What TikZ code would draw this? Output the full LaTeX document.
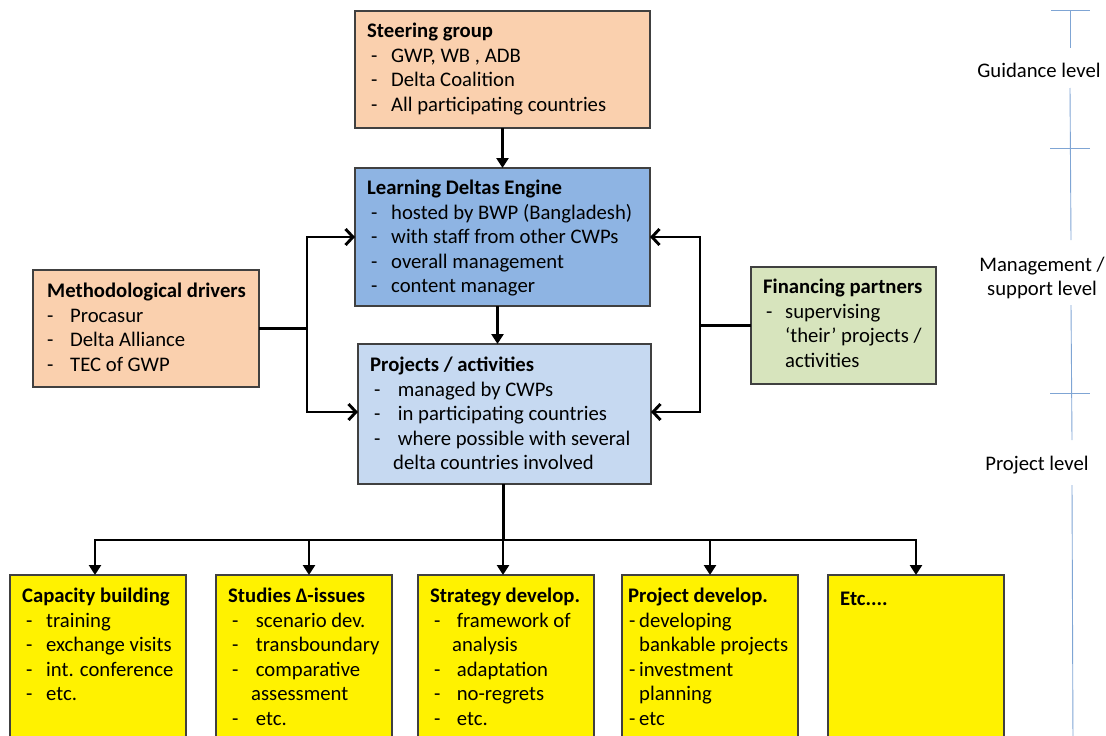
\documentclass[tikz,border=0pt]{standalone}
\usepackage{fontspec}
\setmainfont{Carlito}
\usetikzlibrary{arrows.meta,calc}
\definecolor{peach}{HTML}{FAD0AE}
\definecolor{engblue}{HTML}{8EB4E3}
\definecolor{projblue}{HTML}{C6D9F1}
\definecolor{fingreen}{HTML}{D7E4BD}
\definecolor{scaleblue}{HTML}{7FA5D4}
\definecolor{boxline}{HTML}{404040}
\newcommand{\di}[1][24pt]{\makebox[#1][l]{\hspace{4pt}-}}
\newcommand{\ci}[1][24pt]{\hspace*{#1}}
\begin{document}
\begin{tikzpicture}[x=1pt,y=-1pt,
  box/.style={draw=boxline, line width=1.2pt, anchor=north west, inner sep=0pt, outer sep=0pt},
  txt/.style={anchor=north west, yshift=13.22pt, inner sep=0pt, align=left, font=\fontsize{20.7}{24.6}\selectfont, execute at begin node=\strut},
  conn/.style={line width=2.9pt, black},
  tri/.style={conn, -{Triangle[length=10pt,width=12pt]}},
  barb/.style={conn, -{Straight Barb[length=7.5pt,width=16pt,line width=2.9pt]}},
  lvl/.style={draw=scaleblue, line width=0.9pt},
  lvltxt/.style={font=\fontsize{20.7}{24.6}\selectfont, align=center, inner sep=0pt}]
\useasboundingbox (0,0) rectangle (1106,736);

% boxes
\node[box, fill=peach, minimum width=295, minimum height=117] (sg) at (355,11) {};
\node[box, fill=engblue, minimum width=295, minimum height=138] (en) at (355,168) {};
\node[box, fill=projblue, minimum width=293, minimum height=140] (pr) at (358,344) {};
\node[box, fill=peach, minimum width=226, minimum height=117] (md) at (33,270) {};
\node[box, fill=fingreen, minimum width=185, minimum height=117] (fp) at (751,267) {};
\node[box, fill=yellow, minimum width=176, minimum height=180] (b1) at (10,575) {};
\node[box, fill=yellow, minimum width=176, minimum height=180] (b2) at (216,575) {};
\node[box, fill=yellow, minimum width=176, minimum height=180] (b3) at (418,575) {};
\node[box, fill=yellow, minimum width=176, minimum height=180] (b4) at (622,575) {};
\node[box, fill=yellow, minimum width=176, minimum height=180] (b5) at (828,575) {};

% texts
\node[txt] (sg-t) at (367,36) {\textbf{Steering group}\\ \di GWP, WB , ADB\\ \di Delta Coalition\\ \di All participating countries};
\node[txt] (en-t) at (367,193) {\textbf{Learning Deltas Engine}\\ \di hosted by BWP (Bangladesh)\\ \di with staff from other CWPs\\ \di overall management\\ \di content manager};
\node[txt] (pr-t) at (370,370) {\textbf{Projects / activities}\\ \di[23pt] managed by CWPs\\ \di[23pt] in participating countries\\ \di[23pt] where possible with several\\ \ci[23pt]delta countries involved};
\node[txt] (md-t) at (47,296) {\textbf{Methodological drivers}\\ \makebox[23pt][l]{-}Procasur\\ \makebox[23pt][l]{-}Delta Alliance\\ \makebox[23pt][l]{-}TEC of GWP};
\node[txt] (fp-t) at (763,292) {\textbf{Financing partners}\\ \makebox[22pt][l]{\hspace{3pt}-}supervising\\ \ci[22pt]‘their’ projects /\\ \ci[22pt]activities};
\node[txt] (b1-t) at (22,601) {\textbf{Capacity building}\\ \di training\\ \di exchange visits\\ \di int. conference\\ \di etc.};
\node[txt] (b2-t) at (228,601) {\textbf{Studies Δ-issues}\\ \di[23pt] scenario dev.\\ \di[23pt] transboundary\\ \di[23pt] comparative\\ \ci[23pt]assessment\\ \di[23pt] etc.};
\node[txt] (b3-t) at (430,601) {\textbf{Strategy develop.}\\ \di[22pt] framework of\\ \ci[22pt]analysis\\ \di[22pt] adaptation\\ \di[22pt] no-regrets\\ \di[22pt] etc.};
\node[txt] (b4-t) at (628,601) {\textbf{Project develop.}\\ \makebox[11pt][l]{\hspace{1pt}-}developing\\ \ci[11pt]bankable projects\\ \makebox[11pt][l]{\hspace{1pt}-}investment\\ \ci[11pt]planning\\ \makebox[11pt][l]{\hspace{1pt}-}etc};
\node[txt] (b5-t) at (840,601) {\textbf{Etc....}};

% connectors
\coordinate (es) at ($(en.south)+(-5,0)$);
\coordinate (ps) at ($(pr.south)+(-1,0)$);
\coordinate (t1) at ($(b1.north)+(-3,0)$);
\coordinate (t2) at ($(b2.north)+(5,0)$);
\coordinate (t3) at ($(b3.north)+(-3,0)$);
\coordinate (t4) at (b4.north);
\coordinate (t5) at (b5.north);
\coordinate (pw) at ($(pr.west)+(0,-2)$);
\coordinate (pe) at ($(pr.east)+(0,-2)$);
\draw[tri] (sg.south) -- (en.north);
\draw[tri] (es) -- (es |- pr.north);
\draw[barb] (md.east) -- ++(48,0) coordinate (mj) |- (en.west);
\draw[barb] (mj) |- (pw);
\draw[barb] (fp.west) -- ++(-51,0) coordinate (fj) |- (en.east);
\draw[barb] (fj) |- (pe);
\draw[conn] (ps) -- ++(0,56) coordinate (bj);
\draw[conn, line cap=rect] (t1 |- bj) -- (t5 |- bj);
\foreach \i in {1,...,5} {\draw[tri] (t\i |- bj) -- (t\i);}

% level scale
\node[lvltxt] (lv1) at (1039,70) {Guidance level};
\node[lvltxt] (lv2) at (1042,278) {Management /\\support level};
\node[lvltxt] (lv3) at (1037,465) {Project level};
\draw[lvl] (1070,10) -- (1070,48);
\draw[lvl] (1070,88) -- (1071,240);
\draw[lvl] (1071,305) -- (1072,440);
\draw[lvl] (1072,485) -- (1073,745);
\draw[lvl] (1051,10) -- (1090,10);
\draw[lvl] (1050,148) -- (1090,148);
\draw[lvl] (1050,393) -- (1090,393);
\end{tikzpicture}
\end{document}
